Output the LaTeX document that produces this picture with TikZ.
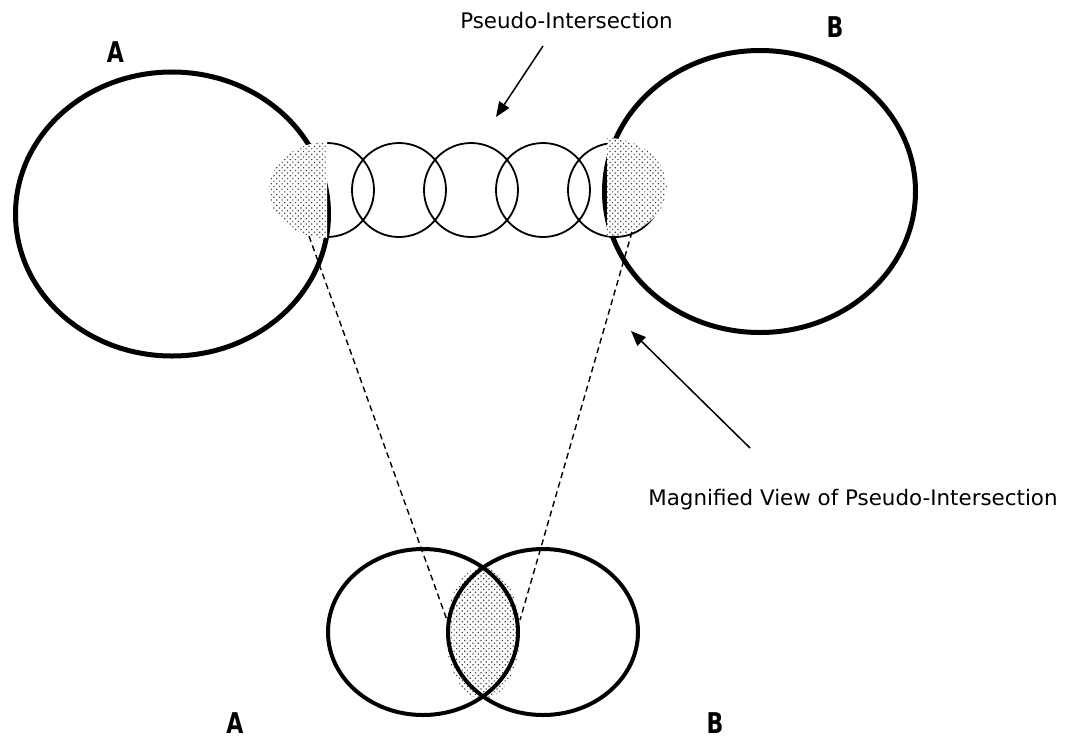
\documentclass[tikz,border=0pt]{standalone}
\usepackage{fontspec}
\setmainfont{DejaVu Sans}
\usetikzlibrary{arrows.meta,patterns.meta}
\begin{document}
\begin{tikzpicture}[x=1pt,y=-1pt,
  bigring/.style={line width=5pt},
  smallring/.style={line width=1.8pt},
  venn/.style={line width=4pt},
  stipple/.style={fill=white, postaction={pattern={Dots[distance=3.8pt,radius=0.85pt,angle=45]}, pattern color=black!75}},
  cone/.style={dash pattern=on 6pt off 4pt, line width=1.4pt},
  pointer/.style={line width=1.5pt, -{Triangle[length=15pt,width=12pt]}},
  setname/.style={font=\bfseries\fontsize{22}{22}\selectfont, anchor=base, inner sep=0pt},
  caption/.style={font=\fontsize{21.4}{24}\selectfont, anchor=base, inner sep=0pt}]
\useasboundingbox (0,0) rectangle (1066,740);

% chain of small circles bridging the two sets
\foreach \cx in {327,399,471,543,615}
  \draw[smallring] (\cx,190) circle [radius=47];

% the two large sets
\draw[bigring] (172,214) ellipse [x radius=156.5, y radius=142];
\draw[bigring] (760,191.5) ellipse [x radius=155.5, y radius=141];

% stippled contact zones
\begin{scope}
  \clip (260,130) rectangle (327,250);
  \path[stipple] (327,190) ellipse [x radius=58, y radius=48];
\end{scope}
\begin{scope}
  \clip (607,130) rectangle (680,250);
  \path[stipple] (607,187) ellipse [x radius=60, y radius=49];
\end{scope}

% magnified overlap
\path[stipple] (483,633) ellipse [x radius=37, y radius=66];
\draw[venn] (423,632) ellipse [x radius=95, y radius=83];
\draw[venn] (543,632) ellipse [x radius=95, y radius=83];

% magnification cone
\coordinate (zoneL) at (309,236);
\coordinate (zoneR) at (632,232);
\coordinate (lensL) at (447,620);
\coordinate (lensR) at (520,620);
\draw[cone] (zoneL) -- (lensL);
\draw[cone] (zoneR) -- (lensR);

% pointers
\coordinate (pTail) at (543,46);
\coordinate (pTip) at (496,117);
\coordinate (mTail) at (750,448);
\coordinate (mTip) at (631,331);
\draw[pointer] (pTail) -- (pTip);
\draw[pointer] (mTail) -- (mTip);

% labels
\node[setname] (topA) at (115.5,62) {\scalebox{1}[1.3]{A}};
\node[setname] (topB) at (835,37) {\scalebox{1}[1.3]{B}};
\node[setname] (botA) at (235,733) {\scalebox{1}[1.3]{A}};
\node[setname] (botB) at (715,733) {\scalebox{1}[1.3]{B}};
\node[caption] (pseudo) at (566.5,28) {Pseudo-Intersection};
\node[caption] (magnified) at (853,505) {Magnified View of Pseudo-Intersection};
\end{tikzpicture}
\end{document}
